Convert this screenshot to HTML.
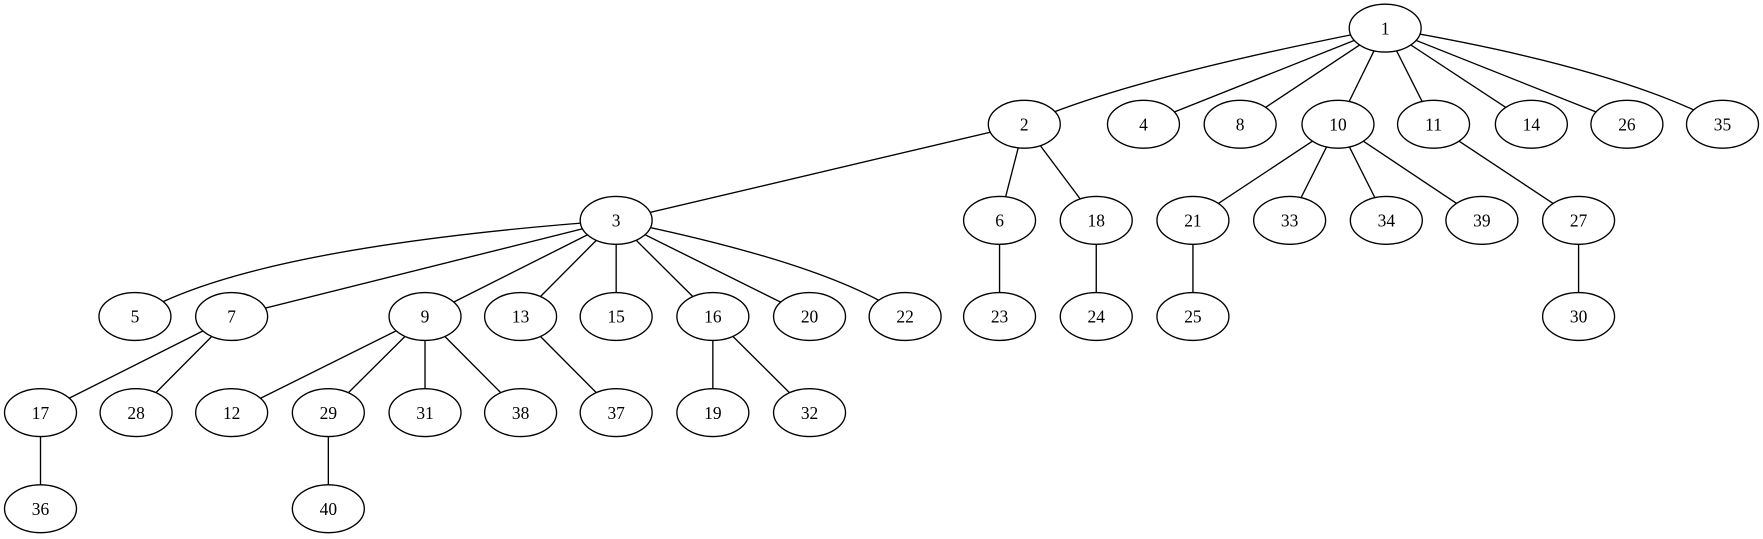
<!DOCTYPE html>
<html><head><meta charset="utf-8"><style>html,body{margin:0;padding:0;background:#fff}svg{display:block}</style></head>
<body>
<svg width="1763" height="539" viewBox="0 0 1568 479.4" xmlns="http://www.w3.org/2000/svg">
<g stroke="#000" stroke-width="1.2" fill="none">
<path d="M1232,25 Q1000,70 911,110.5"/>
<line x1="1232" y1="25" x2="1017" y2="110.5"/>
<line x1="1232" y1="25" x2="1103" y2="110.5"/>
<line x1="1232" y1="25" x2="1190" y2="110.5"/>
<line x1="1232" y1="25" x2="1275" y2="110.5"/>
<line x1="1232" y1="25" x2="1362" y2="110.5"/>
<line x1="1232" y1="25" x2="1447" y2="110.5"/>
<path d="M1232,25 Q1440,60 1532,110.5"/>
<line x1="911" y1="110.5" x2="548" y2="196"/>
<line x1="911" y1="110.5" x2="889" y2="196"/>
<line x1="911" y1="110.5" x2="975" y2="196"/>
<line x1="1190" y1="110.5" x2="1061" y2="196"/>
<line x1="1190" y1="110.5" x2="1147" y2="196"/>
<line x1="1190" y1="110.5" x2="1233" y2="196"/>
<line x1="1190" y1="110.5" x2="1318" y2="196"/>
<line x1="1275" y1="110.5" x2="1404" y2="196"/>
<path d="M548,196 Q220,220 120,281.5"/>
<line x1="548" y1="196" x2="206" y2="281.5"/>
<line x1="548" y1="196" x2="378" y2="281.5"/>
<line x1="548" y1="196" x2="463" y2="281.5"/>
<line x1="548" y1="196" x2="548" y2="281.5"/>
<line x1="548" y1="196" x2="634" y2="281.5"/>
<line x1="548" y1="196" x2="720" y2="281.5"/>
<path d="M548,196 Q740,235 805,281.5"/>
<line x1="889" y1="196" x2="889" y2="281.5"/>
<line x1="975" y1="196" x2="975" y2="281.5"/>
<line x1="1061" y1="196" x2="1061" y2="281.5"/>
<line x1="1404" y1="196" x2="1404" y2="281.5"/>
<line x1="206" y1="281.5" x2="36" y2="367"/>
<line x1="206" y1="281.5" x2="121" y2="367"/>
<line x1="378" y1="281.5" x2="206" y2="367"/>
<line x1="378" y1="281.5" x2="292" y2="367"/>
<line x1="378" y1="281.5" x2="378" y2="367"/>
<line x1="378" y1="281.5" x2="463" y2="367"/>
<line x1="463" y1="281.5" x2="548" y2="367"/>
<line x1="634" y1="281.5" x2="634" y2="367"/>
<line x1="634" y1="281.5" x2="720" y2="367"/>
<line x1="36" y1="367" x2="36" y2="452.5"/>
<line x1="292" y1="367" x2="292" y2="452.5"/>
</g>
<g stroke="#000" stroke-width="1.2" fill="#fff">
<ellipse cx="1232" cy="25" rx="32" ry="21.3"/>
<ellipse cx="911" cy="110.5" rx="32" ry="21.3"/>
<ellipse cx="1017" cy="110.5" rx="32" ry="21.3"/>
<ellipse cx="1103" cy="110.5" rx="32" ry="21.3"/>
<ellipse cx="1190" cy="110.5" rx="32" ry="21.3"/>
<ellipse cx="1275" cy="110.5" rx="32" ry="21.3"/>
<ellipse cx="1362" cy="110.5" rx="32" ry="21.3"/>
<ellipse cx="1447" cy="110.5" rx="32" ry="21.3"/>
<ellipse cx="1532" cy="110.5" rx="32" ry="21.3"/>
<ellipse cx="548" cy="196" rx="32" ry="21.3"/>
<ellipse cx="889" cy="196" rx="32" ry="21.3"/>
<ellipse cx="975" cy="196" rx="32" ry="21.3"/>
<ellipse cx="1061" cy="196" rx="32" ry="21.3"/>
<ellipse cx="1147" cy="196" rx="32" ry="21.3"/>
<ellipse cx="1233" cy="196" rx="32" ry="21.3"/>
<ellipse cx="1318" cy="196" rx="32" ry="21.3"/>
<ellipse cx="1404" cy="196" rx="32" ry="21.3"/>
<ellipse cx="120" cy="281.5" rx="32" ry="21.3"/>
<ellipse cx="206" cy="281.5" rx="32" ry="21.3"/>
<ellipse cx="378" cy="281.5" rx="32" ry="21.3"/>
<ellipse cx="463" cy="281.5" rx="32" ry="21.3"/>
<ellipse cx="548" cy="281.5" rx="32" ry="21.3"/>
<ellipse cx="634" cy="281.5" rx="32" ry="21.3"/>
<ellipse cx="720" cy="281.5" rx="32" ry="21.3"/>
<ellipse cx="805" cy="281.5" rx="32" ry="21.3"/>
<ellipse cx="889" cy="281.5" rx="32" ry="21.3"/>
<ellipse cx="975" cy="281.5" rx="32" ry="21.3"/>
<ellipse cx="1061" cy="281.5" rx="32" ry="21.3"/>
<ellipse cx="1404" cy="281.5" rx="32" ry="21.3"/>
<ellipse cx="36" cy="367" rx="32" ry="21.3"/>
<ellipse cx="121" cy="367" rx="32" ry="21.3"/>
<ellipse cx="206" cy="367" rx="32" ry="21.3"/>
<ellipse cx="292" cy="367" rx="32" ry="21.3"/>
<ellipse cx="378" cy="367" rx="32" ry="21.3"/>
<ellipse cx="463" cy="367" rx="32" ry="21.3"/>
<ellipse cx="548" cy="367" rx="32" ry="21.3"/>
<ellipse cx="634" cy="367" rx="32" ry="21.3"/>
<ellipse cx="720" cy="367" rx="32" ry="21.3"/>
<ellipse cx="36" cy="452.5" rx="32" ry="21.3"/>
<ellipse cx="292" cy="452.5" rx="32" ry="21.3"/>
</g>
<g font-family="'Liberation Serif',serif" font-size="15.5" text-anchor="middle" fill="#000">
<text x="1232" y="30.5">1</text>
<text x="911" y="116">2</text>
<text x="1017" y="116">4</text>
<text x="1103" y="116">8</text>
<text x="1190" y="116">10</text>
<text x="1275" y="116">11</text>
<text x="1362" y="116">14</text>
<text x="1447" y="116">26</text>
<text x="1532" y="116">35</text>
<text x="548" y="201.5">3</text>
<text x="889" y="201.5">6</text>
<text x="975" y="201.5">18</text>
<text x="1061" y="201.5">21</text>
<text x="1147" y="201.5">33</text>
<text x="1233" y="201.5">34</text>
<text x="1318" y="201.5">39</text>
<text x="1404" y="201.5">27</text>
<text x="120" y="287">5</text>
<text x="206" y="287">7</text>
<text x="378" y="287">9</text>
<text x="463" y="287">13</text>
<text x="548" y="287">15</text>
<text x="634" y="287">16</text>
<text x="720" y="287">20</text>
<text x="805" y="287">22</text>
<text x="889" y="287">23</text>
<text x="975" y="287">24</text>
<text x="1061" y="287">25</text>
<text x="1404" y="287">30</text>
<text x="36" y="372.5">17</text>
<text x="121" y="372.5">28</text>
<text x="206" y="372.5">12</text>
<text x="292" y="372.5">29</text>
<text x="378" y="372.5">31</text>
<text x="463" y="372.5">38</text>
<text x="548" y="372.5">37</text>
<text x="634" y="372.5">19</text>
<text x="720" y="372.5">32</text>
<text x="36" y="458">36</text>
<text x="292" y="458">40</text>
</g>
</svg>
</body></html>
